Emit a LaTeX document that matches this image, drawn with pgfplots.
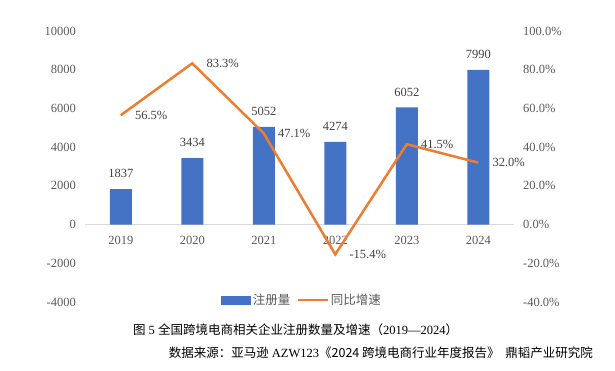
\documentclass[border=0pt]{standalone}
\usepackage{pgfplots}
\pgfplotsset{compat=1.18}
\usepackage{fontspec}
\setmainfont{Liberation Serif}
\newfontfamily\cjk{Noto Sans CJK SC}
\definecolor{barblue}{HTML}{4472C4}
\definecolor{lineorange}{HTML}{ED7D31}
\definecolor{ticktext}{HTML}{595959}
\definecolor{labeltext}{HTML}{404040}
\definecolor{zeroline}{HTML}{D9D9D9}
\newcommand{\fs}{\fontsize{12.5}{14}\selectfont}
\begin{document}
\begin{tikzpicture}[x=1pt,y=1pt]
\path[use as bounding box] (0,0) rectangle (615,371);
\begin{axis}[
  at={(85pt,69pt)}, anchor=south west,
  width=429pt, height=271pt, scale only axis,
  xmin=-0.5, xmax=5.5, ymin=-4000, ymax=10000,
  ytick={-4000,-2000,...,10000},
  scaled y ticks=false,
  xtick={0,1,2,3,4,5}, xticklabels={2019,2020,2021,2022,2023,2024},
  axis x line=middle, axis y line=left,
  axis line style={-},
  x axis line style={draw=zeroline, line width=0.75pt},
  y axis line style={draw=none},
  major tick length=0pt,
  tick label style={font=\fs, text=ticktext},
  /pgf/number format/assume math mode=true,
  /pgf/number format/1000 sep={},
  yticklabel style={anchor=east, inner sep=0pt, xshift=-9pt},
  xticklabel style={anchor=north, inner sep=0pt, yshift=-11pt},
  ybar, bar width=22pt,
]
\addplot[fill=barblue, draw=none, bar shift=0pt,
  nodes near coords,
  every node near coord/.append style={anchor=south, inner sep=0pt, yshift=11pt, font=\fs, text=labeltext}]
  coordinates {(0,1837) (1,3434) (2,5052) (3,4274) (4,6052) (5,7990)};
\end{axis}
\begin{axis}[
  at={(85pt,69pt)}, anchor=south west,
  width=429pt, height=271pt, scale only axis,
  xmin=-0.5, xmax=5.5, ymin=-40, ymax=100,
  ytick={-40,-20,...,100},
  axis y line*=right, axis x line=none,
  y axis line style={draw=none},
  major tick length=0pt,
  tick label style={font=\fs, text=ticktext},
  /pgf/number format/assume math mode=true,
  yticklabel={\pgfmathprintnumber[fixed,fixed zerofill,precision=1]{\tick}\%},
  yticklabel style={anchor=west, inner sep=0pt, xshift=9pt},
  legend columns=2,
  legend style={at={(0.506,0.007)}, anchor=center, draw=none, fill=none,
    font=\cjk\fs, text=ticktext, /tikz/every even column/.append style={column sep=4pt}},
]
\addlegendimage{legend image code/.code={\fill[barblue] (0pt,-4pt) rectangle (29pt,4pt);}}
\addlegendentry{注册量}
\addplot[lineorange, line width=2.5pt, mark=none,
  legend image code/.code={\draw[lineorange, line width=2.5pt] (0pt,0pt) -- (30pt,0pt);},
  point meta=y,
  nodes near coords={\pgfmathprintnumber[fixed,fixed zerofill,precision=1]{\pgfplotspointmeta}\%},
  every node near coord/.append style={anchor=west, inner sep=0pt, xshift=13pt, font=\fs, text=labeltext}]
  coordinates {(0,56.5) (1,83.3) (2,47.1) (3,-15.4) (4,41.5) (5,32.0)};
\addlegendentry{同比增速}
\end{axis}
\node[anchor=center, font=\fs, text=black] at (295.5,41) {{\cjk 图}~5~{\cjk 全国跨境电商相关企业注册数量及增速（}2019—2024{\cjk ）}};
\node[anchor=east, inner sep=0pt, font=\fs, text=black] at (593,18) {{\cjk 数据来源：亚马逊}~AZW123{\cjk 《2024~跨境电商行业年度报告》~~鼎韬产业研究院}};
\end{tikzpicture}
\end{document}
